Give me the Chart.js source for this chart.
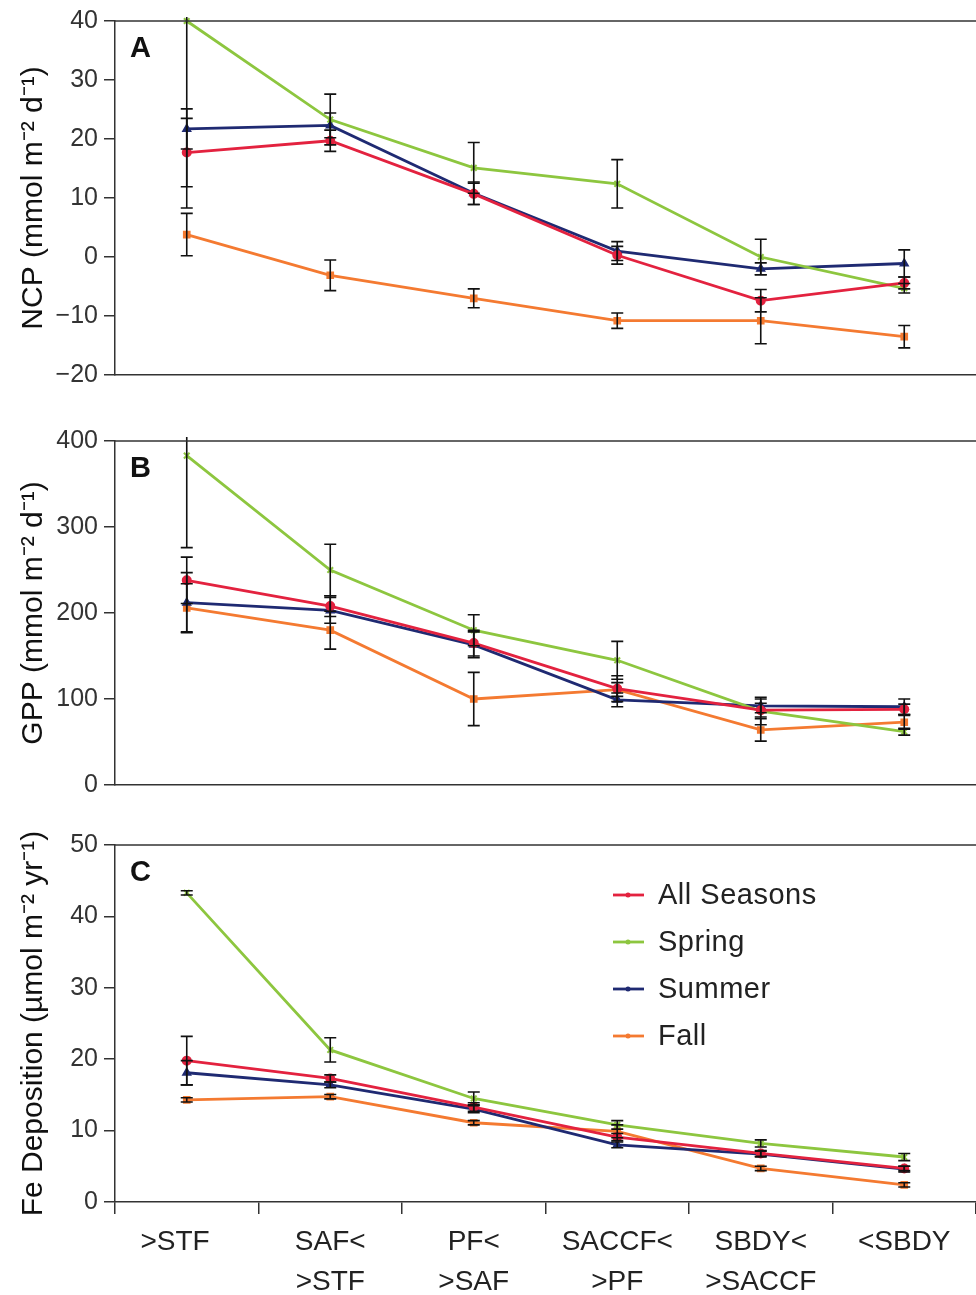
<!DOCTYPE html>
<html>
<head>
<meta charset="utf-8">
<script src="https://cdn.jsdelivr.net/npm/chart.js@4.4.1/dist/chart.umd.min.js"></script>
<style>
  html, body { margin: 0; padding: 0; background: #fff; }
  body { width: 976px; height: 1295px; position: relative; overflow: hidden; }
  canvas { position: absolute; left: 0; }
</style>
</head>
<body>
<canvas id="panelA" width="976" height="400" style="top:0px"></canvas>
<canvas id="panelB" width="976" height="390" style="top:420px"></canvas>
<canvas id="panelC" width="976" height="475" style="top:820px"></canvas>
<script>
// Frontal zones (x categories)
const zones = [['>STF   '], ['SAF<', '>STF'], ['PF<', '>SAF'], ['SACCF<', '>PF'], ['SBDY<', '>SACCF'], ['<SBDY']];
const seasons = ['All Seasons', 'Spring', 'Summer', 'Fall'];

// A: NCP (mmol m-2 d-1)
const ncpAll = [17.7, 19.7, 10.7, 0.3, -7.4, -4.4];
const ncpAllErr = [5.8, 1.8, 1.8, 1.5, 1.9, 1.0];
const ncpSpring = [40, 23.3, 15.1, 12.4, 0.0, -5.3];
const ncpSpringErr = [31.7, 4.3, 4.3, 4.1, 3.0, 0.8];
const ncpSummer = [21.7, 22.3, 10.8, 1.0, -2.0, -1.1];
const ncpSummerErr = [3.4, 2.1, 1.9, 1.6, 1.0, 2.3];
const ncpFall = [3.8, -3.1, -7.0, -10.8, -10.8, -13.5];
const ncpFallErr = [3.6, 2.6, 1.6, 1.3, 3.9, 1.9];

// B: GPP (mmol m-2 d-1)
const gppAll = [238, 208, 165, 112, 87, 88];
const gppAllErr = [27, 12, 15, 15, 8, 6];
const gppSpring = [383, 250, 180, 145, 86, 62];
const gppSpringErr = [107, 30, 18, 22, 16, 4];
const gppSummer = [212, 203, 163, 99, 92, 91];
const gppSummerErr = [35, 15, 15, 8, 8, 9];
const gppFall = [206, 180, 100, 111, 64, 73];
const gppFallErr = [28, 22, 31, 8, 13, 8];

// C: Fe deposition (umol m-2 yr-1)
const feAll = [19.8, 17.3, 13.3, 9.1, 6.8, 4.7];
const feAllErr = [3.4, 0.5, 0.6, 0.5, 0.4, 0.3];
const feSpring = [43.3, 21.3, 14.5, 10.8, 8.2, 6.3];
const feSpringErr = [0.3, 1.7, 0.9, 0.6, 0.5, 0.5];
const feSummer = [18.1, 16.4, 13.0, 8.0, 6.7, 4.6];
const feSummerErr = [1.7, 0.4, 0.5, 0.4, 0.4, 0.4];
const feFall = [14.3, 14.75, 11.1, 9.9, 4.7, 2.4];
const feFallErr = [0.3, 0.3, 0.3, 0.9, 0.3, 0.3];

const seasonColors = ['#e3223f', '#8dc63f', '#1f2a72', '#f47a31'];
const seasonMarkers = ['circle', 'crossRot', 'triangle', 'rect'];
const FONT = '"Liberation Sans", Arial, sans-serif';
const AXIS = '#333';

function makeDatasets(seriesList, errList) {
    return seriesList.map((vals, i) => ({
        label: seasons[i],
        data: vals,
        errors: errList[i],
        borderColor: seasonColors[i],
        backgroundColor: seasonColors[i],
        pointStyle: seasonMarkers[i],
        pointRadius: 4,
        pointBorderWidth: 2,
        borderWidth: 2.8,
        tension: 0,
        clip: false
    }));
}

// error bars + top frame line + panel letter + optional legend
const panelDecor = {
    id: 'panelDecor',
    afterDatasetsDraw(chart, args, opts) {
        const { ctx, chartArea: ca, scales: { x, y } } = chart;
        ctx.save();
        ctx.beginPath();
        ctx.rect(ca.left, ca.top - 4, ca.right - ca.left, ca.bottom - ca.top + 6);
        ctx.clip();
        ctx.strokeStyle = '#111';
        ctx.lineWidth = 1.6;
        chart.data.datasets.forEach(ds => {
            ds.data.forEach((v, i) => {
                const e = ds.errors[i];
                if (!e) return;
                const px = x.getPixelForValue(i);
                const yTop = y.getPixelForValue(v + e);
                const yBot = y.getPixelForValue(v - e);
                ctx.beginPath();
                ctx.moveTo(px, yTop); ctx.lineTo(px, yBot);
                ctx.moveTo(px - 6, yTop); ctx.lineTo(px + 6, yTop);
                ctx.moveTo(px - 6, yBot); ctx.lineTo(px + 6, yBot);
                ctx.stroke();
            });
        });
        ctx.restore();

        ctx.save();
        ctx.strokeStyle = AXIS;
        ctx.lineWidth = 1.5;
        ctx.beginPath();
        ctx.moveTo(ca.left, ca.top);
        ctx.lineTo(ca.right, ca.top);
        ctx.stroke();

        ctx.fillStyle = '#111';
        ctx.font = 'bold 29px ' + FONT;
        ctx.textBaseline = 'middle';
        ctx.fillText(opts.letter, ca.left + 15, ca.top + 28);

        if (opts.legend) {
            ctx.font = '29px ' + FONT;
            ctx.letterSpacing = '0.5px';
            seasons.forEach((name, i) => {
                const ly = ca.top + 50 + i * 47;
                ctx.strokeStyle = seasonColors[i];
                ctx.lineWidth = 2.8;
                ctx.beginPath();
                ctx.moveTo(613, ly); ctx.lineTo(644, ly);
                ctx.stroke();
                ctx.fillStyle = seasonColors[i];
                ctx.beginPath();
                ctx.arc(628, ly, 2.5, 0, Math.PI * 2);
                ctx.fill();
                ctx.fillStyle = '#222';
                ctx.fillText(name, 658, ly + 1);
            });
        }
        ctx.restore();
    }
};

function buildPanel(canvasId, datasets, yMin, yMax, yStep, yTitle, letter, opts) {
    const showX = !!opts.showX;
    return new Chart(document.getElementById(canvasId), {
        type: 'line',
        data: { labels: zones, datasets: datasets },
        options: {
            responsive: false,
            animation: false,
            layout: { autoPadding: false, padding: { top: opts.padTop, right: 0, left: 0, bottom: 0 } },
            plugins: {
                legend: { display: false },
                tooltip: { enabled: false },
                panelDecor: { letter: letter, legend: !!opts.legend }
            },
            scales: {
                x: {
                    offset: true,
                    grid: { display: showX, offset: true, drawOnChartArea: false, drawTicks: true, tickLength: 12, color: AXIS, lineWidth: 1.5 },
                    border: { display: true, color: AXIS, width: 1.5 },
                    ticks: { display: showX, color: '#222', padding: 8, maxRotation: 0, autoSkip: false, font: { family: FONT, size: 28, lineHeight: 1.43 } },
                    afterFit: s => { s.height = opts.xHeight; }
                },
                y: {
                    min: yMin, max: yMax,
                    grid: { display: true, drawOnChartArea: false, drawTicks: true, tickLength: 11, color: AXIS, lineWidth: 1.5 },
                    border: { display: true, color: AXIS, width: 1.5 },
                    ticks: {
                        stepSize: yStep, color: '#333', padding: 6,
                        font: { family: FONT, size: 25 },
                        callback: v => (v < 0 ? '\u2212' + Math.abs(v) : v)
                    },
                    title: { display: true, text: yTitle, color: '#111', padding: { top: 16, bottom: 0 }, font: { family: FONT, size: 30 } },
                    afterFit: s => { s.width = 115; }
                }
            }
        },
        plugins: [panelDecor]
    });
}

buildPanel('panelA',
    makeDatasets([ncpAll, ncpSpring, ncpSummer, ncpFall], [ncpAllErr, ncpSpringErr, ncpSummerErr, ncpFallErr]),
    -20, 40, 10, 'NCP (mmol m\u207B\u00B2 d\u207B\u00B9)', 'A', { padTop: 19, xHeight: 25 });

buildPanel('panelB',
    makeDatasets([gppAll, gppSpring, gppSummer, gppFall], [gppAllErr, gppSpringErr, gppSummerErr, gppFallErr]),
    0, 400, 100, 'GPP (mmol m\u207B\u00B2 d\u207B\u00B9)', 'B', { padTop: 19, xHeight: 25 });

buildPanel('panelC',
    makeDatasets([feAll, feSpring, feSummer, feFall], [feAllErr, feSpringErr, feSummerErr, feFallErr]),
    0, 50, 10, 'Fe Deposition (\u00B5mol m\u207B\u00B2 yr\u207B\u00B9)', 'C', { padTop: 25, xHeight: 93, showX: true, legend: true });
</script>
</body>
</html>
